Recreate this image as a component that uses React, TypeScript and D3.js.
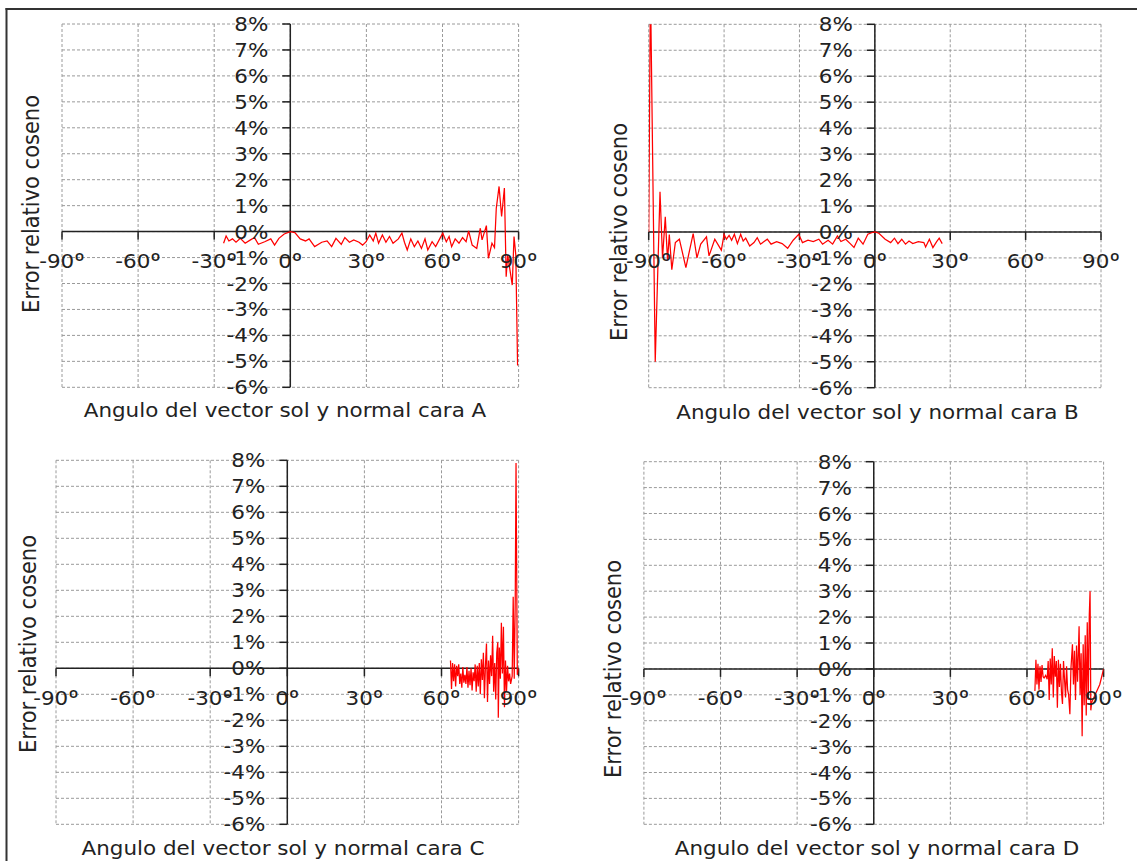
import React from "react";
import * as d3 from "d3";

// ---------- data ----------
const yTickValues = [-6, -5, -4, -3, -2, -1, 0, 1, 2, 3, 4, 5, 6, 7, 8];
const xTickValues = [-90, -60, -30, 0, 30, 60, 90];
const yAxisTitle = "Error relativo coseno";
const xAxisTitles = [
  "Angulo del vector sol y normal cara A",
  "Angulo del vector sol y normal cara B",
  "Angulo del vector sol y normal cara C",
  "Angulo del vector sol y normal cara D",
];

const anglesA = [-26.3,-25.3,-24.2,-22.8,-21.4,-19.7,-17.8,-15.7,-14.1,-12.6,-10.1,-7.7,-6.2,-4.5,-2.4,0,1.8,3.9,6.0,7.4,9.6,12.4,14.5,16.3,18.0,20.1,21.5,23.3,25.0,27.1,28.5,29.9,31.3,32.7,33.7,34.8,36.3,37.7,39.1,40.5,42.6,44.0,45.0,46.1,47.5,48.9,50.3,51.7,53.1,54.2,55.9,57.3,59.0,60.1,61.5,62.6,63.6,65.0,66.5,67.9,69.3,70.3,71.7,73.5,74.9,75.6,77.3,78.1,79.5,80.5,81.2,82.3,83.3,84.4,85.1,85.7,86.5,87.5,88.2,88.9,89.6];
const errorA = [-0.45,-0.17,-0.36,-0.28,-0.41,-0.26,-0.45,-0.32,-0.23,-0.49,-0.39,-0.28,-0.52,-0.26,-0.09,0,-0.04,-0.28,-0.36,-0.28,-0.58,-0.41,-0.36,-0.58,-0.26,-0.49,-0.23,-0.41,-0.32,-0.41,-0.52,-0.39,-0.13,-0.36,-0.06,-0.45,-0.13,-0.41,-0.19,-0.45,-0.28,-0.06,-0.41,-0.71,-0.28,-0.58,-0.36,-0.65,-0.28,-0.71,-0.39,-0.58,-0.26,-0.06,-0.39,-0.19,-0.58,-0.28,-0.45,-0.23,-0.39,0.03,-0.52,-0.65,0.13,-0.32,0.23,-1.03,-0.45,-0.62,0.9,1.74,0.58,1.68,-1.74,-0.9,-1.42,-2.06,-0.19,-0.9,-5.16];

const anglesB = [-90,-89.3,-87.4,-85.5,-84.5,-83.4,-82.5,-81.8,-80.8,-79.4,-77.8,-75.2,-72.3,-70.8,-69.3,-67.0,-66.0,-63.7,-61.1,-60.0,-59.1,-58.0,-57.0,-55.9,-54.7,-53.4,-52.4,-51.4,-49.8,-48.1,-46.8,-45.5,-42.8,-41.3,-39.1,-36.9,-34.7,-32.5,-30.3,-28.8,-26.6,-24.5,-22.3,-20.8,-18.6,-16.8,-14.9,-13.5,-11.6,-9.8,-8.3,-6.6,-4.7,-2.8,-1.3,0,1.6,4.1,6.3,7.8,9.2,10.7,12.2,13.6,15.1,17.3,19.5,20.2,21.7,23.1,24.6,25.6,26.8];
const errorB = [0,9.5,-5.0,1.55,-1.0,0.58,-1.1,-0.1,-1.45,-0.41,-0.28,-1.37,-0.06,-1.0,-0.47,-0.19,-0.92,-0.28,-0.7,-0.09,-0.28,-0.13,-0.32,-0.09,-0.45,-0.09,-0.35,-0.24,-0.54,-0.41,-0.22,-0.47,-0.28,-0.47,-0.37,-0.45,-0.63,-0.32,-0.09,-0.41,-0.32,-0.37,-0.28,-0.47,-0.32,-0.47,-0.15,-0.37,-0.28,-0.45,-0.6,-0.24,-0.47,-0.09,-0.03,0,-0.05,-0.28,-0.41,-0.24,-0.45,-0.28,-0.47,-0.35,-0.45,-0.37,-0.41,-0.58,-0.28,-0.6,-0.37,-0.24,-0.45];

const anglesC = [63.5,63.9,64.3,64.7,65.1,65.5,65.9,66.3,66.7,67.1,67.5,67.9,68.3,68.7,69.1,69.5,69.9,70.3,70.7,71.1,71.5,71.9,72.3,72.7,73.1,73.5,73.9,74.3,74.7,75.1,75.5,75.9,76.3,76.7,77.1,77.5,77.9,78.3,78.7,79.1,79.5,79.9,80.3,80.7,81.1,81.5,81.9,82.1,82.5,82.9,83.3,83.7,84.1,84.5,84.9,85.3,85.7,86.1,86.5,86.9,87.5,87.9,88.3,88.7,89.0,89.5,90];
const errorC = [0.3,-0.8,0.2,-0.5,0.15,-0.7,0.1,-0.3,0.15,-0.6,-0.2,-0.75,0.05,-0.55,-0.25,-0.6,0.05,-0.75,-0.1,-0.65,0.0,-0.85,-0.15,-0.5,0.15,-0.9,0.1,-0.7,0.2,-1.0,0.35,-0.45,0.6,-1.15,0.1,0.95,-1.3,0.3,-0.6,0.5,-0.3,1.25,-0.9,0.2,-1.2,0.6,1.0,-1.9,0.8,-0.4,1.75,-0.2,1.6,-1.5,0.3,-0.9,0.1,-0.5,-0.2,-0.6,-0.3,2.75,-0.4,2.7,7.9,-0.25,0];

const anglesD = [63.1,63.5,63.9,64.3,64.7,65.1,65.5,65.9,66.3,66.7,67.3,67.9,68.3,68.7,69.1,69.5,69.9,70.3,70.7,71.1,71.5,71.9,72.3,72.7,73.1,73.5,73.9,74.3,74.7,75.1,75.5,75.9,76.3,76.8,77.2,77.8,78.2,78.6,79.0,79.4,79.8,80.4,80.8,81.2,81.6,82.0,82.4,82.8,83.2,83.6,84.0,84.4,84.7,85.0,85.3,88.5,90.0];
const errorD = [-0.85,0.35,-0.6,0.2,-0.8,0.1,-0.5,0.15,-0.3,-0.35,-0.25,-0.4,0.3,-1.2,0.4,-0.6,0.8,-1.1,0.5,-0.3,0.3,-1.5,0.35,-0.7,0.2,-0.9,-1.35,0.3,-0.4,-1.1,0.1,-0.8,-1.0,-1.75,0.0,0.95,-0.6,0.7,-1.2,0.9,-0.5,1.65,-1.0,0.6,-2.6,0.95,-1.4,1.3,-1.8,1.8,-1.2,2.1,3.0,-1.6,-1.3,-0.6,0];

// ---------- layout ----------
const FONT = "'DejaVu Sans', Verdana, sans-serif";
const STRETCH = 1.1;
const TEXT = "#222";

type Layout = {
  x0: number; x1: number; yTop: number; yBot: number;
  yTitleX: number; yTitleY: number; xTitleX: number; xTitleY: number;
};

const layouts: Layout[] = [
  { x0: 62, x1: 518.6, yTop: 24, yBot: 387.3, yTitleX: 39, yTitleY: 204, xTitleX: 285, xTitleY: 417 },
  { x0: 648.7, x1: 1101, yTop: 24.3, yBot: 387.7, yTitleX: 627, yTitleY: 232, xTitleX: 877.5, xTitleY: 419 },
  { x0: 56, x1: 518.6, yTop: 460.3, yBot: 824.3, yTitleX: 36, yTitleY: 644, xTitleX: 283, xTitleY: 855 },
  { x0: 643.9, x1: 1103.6, yTop: 461.7, yBot: 824.3, yTitleX: 621, yTitleY: 669, xTitleX: 877, xTitleY: 855 },
];

function Panel({ id, lay, angles, errors, xTitle }: { id: string; lay: Layout; angles: number[]; errors: number[]; xTitle: string }) {
  const x = d3.scaleLinear().domain([-90, 90]).range([lay.x0, lay.x1]);
  const y = d3.scaleLinear().domain([-6, 8]).range([lay.yBot, lay.yTop]);
  const data = angles.map((a, i) => [a, errors[i]] as [number, number]);
  const line = d3.line<[number, number]>().x((d) => x(d[0])).y((d) => y(d[1]));
  const ax = x(0);
  const zy = y(0);
  return (
    <g>
      <defs>
        <clipPath id={`clip-${id}`}>
          <rect x={lay.x0} y={lay.yTop} width={lay.x1 - lay.x0} height={lay.yBot - lay.yTop} />
        </clipPath>
      </defs>
      {/* grid */}
      {yTickValues.map((v) => (
        <line key={`gy${v}`} x1={lay.x0} x2={lay.x1} y1={y(v)} y2={y(v)} stroke="#9a9a9a" strokeWidth={1} strokeDasharray="3,2" />
      ))}
      {xTickValues.map((v) => (
        <line key={`gx${v}`} x1={x(v)} x2={x(v)} y1={lay.yTop} y2={lay.yBot} stroke="#9a9a9a" strokeWidth={1} strokeDasharray="3,2" />
      ))}
      {/* axes */}
      <line x1={lay.x0} x2={lay.x1} y1={zy} y2={zy} stroke="#222" strokeWidth={1.5} />
      <line x1={ax} x2={ax} y1={lay.yTop} y2={lay.yBot} stroke="#222" strokeWidth={1.5} />
      {yTickValues.map((v) => (
        <line key={`ty${v}`} x1={ax - 8} x2={ax} y1={y(v)} y2={y(v)} stroke="#222" strokeWidth={1.5} />
      ))}
      {xTickValues.map((v) => (
        <line key={`tx${v}`} x1={x(v)} x2={x(v)} y1={zy} y2={zy + 8} stroke="#222" strokeWidth={1.5} />
      ))}
      {/* series */}
      <path d={line(data) || ""} fill="none" stroke="#ff0000" strokeWidth={1.25} clipPath={`url(#clip-${id})`} />
      {/* tick labels */}
      {yTickValues.map((v) => (
        <text key={`ly${v}`} transform={`translate(${ax - 22},${y(v) + 7}) scale(${STRETCH},1)`} textAnchor="end"
          fontFamily={FONT} fontSize={19.5} fill={TEXT}>{`${v}%`}</text>
      ))}
      {xTickValues.map((v) => (
        <text key={`lx${v}`} transform={`translate(${x(v)},${zy + 36.5}) scale(${STRETCH},1)`} textAnchor="middle"
          fontFamily={FONT} fontSize={19.5} fill={TEXT}>
          {`${v}`}
          <tspan fontFamily="Roboto, 'DejaVu Sans', sans-serif" fontSize={21}>º</tspan>
        </text>
      ))}
      {/* titles */}
      <text transform={`translate(${lay.xTitleX},${lay.xTitleY}) scale(${STRETCH},1)`} textAnchor="middle"
        fontFamily={FONT} fontSize={19.5} fill={TEXT}>{xTitle}</text>
      <text transform={`translate(${lay.yTitleX},${lay.yTitleY}) scale(${STRETCH},1) rotate(-90)`} textAnchor="middle"
        fontFamily={FONT} fontSize={21} fill={TEXT}>{yAxisTitle}</text>
    </g>
  );
}

export default function App() {
  const series = [
    { id: "A", angles: anglesA, errors: errorA },
    { id: "B", angles: anglesB, errors: errorB },
    { id: "C", angles: anglesC, errors: errorC },
    { id: "D", angles: anglesD, errors: errorD },
  ];
  return (
    <svg width={1137} height={861} style={{ position: "absolute", left: 0, top: 0, background: "#fff" }}>
      <rect x={0} y={0} width={1137} height={861} fill="#fff" />
      <line x1={5.5} x2={1137} y1={9} y2={9} stroke="#333" strokeWidth={2} />
      <line x1={6.5} x2={6.5} y1={8} y2={861} stroke="#333" strokeWidth={2} />
      {series.map((s, i) => (
        <Panel key={s.id} id={s.id} lay={layouts[i]} angles={s.angles} errors={s.errors} xTitle={xAxisTitles[i]} />
      ))}
    </svg>
  );
}
